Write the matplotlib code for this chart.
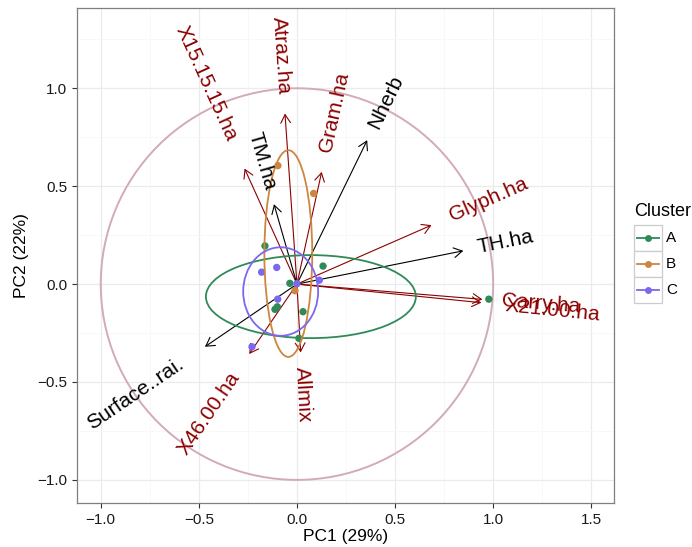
import numpy as np
import matplotlib
matplotlib.use('Agg')
import matplotlib.pyplot as plt
from matplotlib.patches import Ellipse, Circle, Rectangle, FancyArrowPatch
from matplotlib.lines import Line2D
from matplotlib.ticker import MultipleLocator
import matplotlib.transforms as mtransforms

plt.rcParams['font.family'] = ['Liberation Sans', 'DejaVu Sans']

# vecteurs des variables (fleches)
var_names = ['Atraz.ha', 'X15.15.15.ha', 'Gram.ha', 'Nherb', 'TM.ha', 'Glyph.ha',
             'TH.ha', 'Carry.ha', 'X21.00.ha', 'Surface..rai.', 'X46.00.ha', 'Allmix']
var_x = [-0.061, -0.267, 0.126, 0.358, -0.117, 0.686, 0.848, 0.945, 0.940, -0.469, -0.243, 0.019]
var_y = [0.871, 0.590, 0.573, 0.735, 0.408, 0.301, 0.170, -0.078, -0.095, -0.320, -0.357, -0.349]
var_colors = ['#8B0000', '#8B0000', '#8B0000', 'black', 'black', '#8B0000',
              'black', '#8B0000', '#8B0000', 'black', '#8B0000', '#8B0000']

# individus par cluster
clusters = ['A', 'B', 'C']
cluster_colors = ['#2E8B57', '#CD853F', '#7B68EE']
a_x = [-0.163, 0.133, -0.036, -0.100, -0.112, 0.031, 0.010, 0.978]
a_y = [0.195, 0.092, 0.004, -0.116, -0.129, -0.141, -0.277, -0.077]
b_x = [-0.097, 0.085, -0.010]
b_y = [0.605, 0.463, -0.034]
c_x = [-0.180, -0.103, 0.000, 0.114, -0.098, -0.229]
c_y = [0.061, 0.085, 0.002, 0.020, -0.077, -0.320]
points_x = [a_x, b_x, c_x]
points_y = [a_y, b_y, c_y]

# ellipses (centre, demi-axes)
ell_cx = [0.071, -0.044, -0.083]
ell_cy = [-0.064, 0.156, -0.038]
ell_rx = [0.535, 0.122, 0.191]
ell_ry = [0.212, 0.528, 0.226]

W, H = 692, 547
fig = plt.figure(figsize=(W / 100, H / 100), dpi=100)
ax = fig.add_axes([77 / W, (H - 503) / H, (614 - 77) / W, (503 - 8) / H])
ax.set_xlim(-1.121, 1.616)
ax.set_ylim(-1.118, 1.41)

ax.xaxis.set_major_locator(MultipleLocator(0.5))
ax.yaxis.set_major_locator(MultipleLocator(0.5))
ax.xaxis.set_minor_locator(MultipleLocator(0.25))
ax.yaxis.set_minor_locator(MultipleLocator(0.25))
ax.grid(which='major', color='#EBEBEB', lw=0.9, zorder=0)
ax.grid(which='minor', color='#F7F7F7', lw=0.6, zorder=0)
ax.set_axisbelow(True)
ax.tick_params(which='minor', length=0)
ax.tick_params(which='major', length=3.5, width=0.8, color='#333333',
               labelsize=11, labelcolor='#1a1a1a')
ax.xaxis.set_major_formatter(matplotlib.ticker.FuncFormatter(lambda v, p: f'{v:.1f}'.replace('-', '\u2212')))
ax.yaxis.set_major_formatter(matplotlib.ticker.FuncFormatter(lambda v, p: f'{v:.1f}'.replace('-', '\u2212')))
for s in ax.spines.values():
    s.set_color('#7F7F7F')
    s.set_linewidth(0.9)

ax.set_xlabel('PC1 (29%)', fontsize=12.5, labelpad=2)
ax.set_ylabel('PC2 (22%)', fontsize=12.5, labelpad=6)

ax.add_patch(Circle((0, 0), 1, fill=False, ec='#D3AABA', lw=1.4, zorder=1))

for x, y, col in zip(var_x, var_y, var_colors):
    ax.add_patch(FancyArrowPatch((0, 0), (x, y), arrowstyle='->,head_length=0.6,head_width=0.35',
                                 mutation_scale=10, color=col, lw=0.8,
                                 shrinkA=0, shrinkB=0, zorder=2))

for px, py, col in zip(points_x, points_y, cluster_colors):
    ax.scatter(px, py, s=28, color=col, edgecolors='none', zorder=3)

for cx, cy, rx, ry, col in zip(ell_cx, ell_cy, ell_rx, ell_ry, cluster_colors):
    ax.add_patch(Ellipse((cx, cy), 2 * rx, 2 * ry, fill=False, ec=col, lw=1.3, zorder=4))

# etiquettes des variables, placees comme ggbiplot (hjust = (1 - 1.5*sign(x))/2)
renderer = fig.canvas.get_renderer()
for name, x, y, col in zip(var_names, var_x, var_y, var_colors):
    p0 = ax.transData.transform((0, 0))
    p1 = ax.transData.transform((x, y))
    ang = np.degrees(np.arctan((p1[1] - p0[1]) / (p1[0] - p0[0])))
    t = ax.text(x, y, name, fontsize=15, color=col, zorder=5)
    w = t.get_window_extent(renderer).width
    sgn = np.sign(x)
    off_x = 0.25 * w * np.cos(np.radians(ang)) * sgn
    off_y = 0.25 * w * np.sin(np.radians(ang)) * sgn
    t.set_transform(ax.transData + mtransforms.ScaledTranslation(off_x / 100, off_y / 100, fig.dpi_scale_trans))
    t.set_rotation(ang)
    t.set_rotation_mode('anchor')
    t.set_ha('left' if x > 0 else 'right')
    t.set_va('center')

# legende dessinee a la main (coordonnees pixels)
def fx(px):
    return px / W

def fy(py):
    return (H - py) / H

fig.text(fx(634), fy(212), 'Cluster', fontsize=13, va='center', ha='left')
for i, (lab, col) in enumerate(zip(clusters, cluster_colors)):
    top = 225 + i * 26
    fig.add_artist(Rectangle((fx(634), fy(top + 26)), 28 / W, 26 / H, transform=fig.transFigure,
                             fill=True, fc='white', ec='#CCCCCC', lw=0.9))
    fig.add_artist(Line2D([fx(637), fx(659)], [fy(top + 13)] * 2, transform=fig.transFigure,
                          color=col, lw=1.3, marker='o', markevery=[], ms=0))
    fig.add_artist(Line2D([fx(648)], [fy(top + 13)], transform=fig.transFigure,
                          color=col, marker='o', ms=5, mec='none', ls='none'))
    fig.text(fx(666), fy(top + 13), lab, fontsize=11, va='center', ha='left')

plt.savefig('out.png', dpi=100)
